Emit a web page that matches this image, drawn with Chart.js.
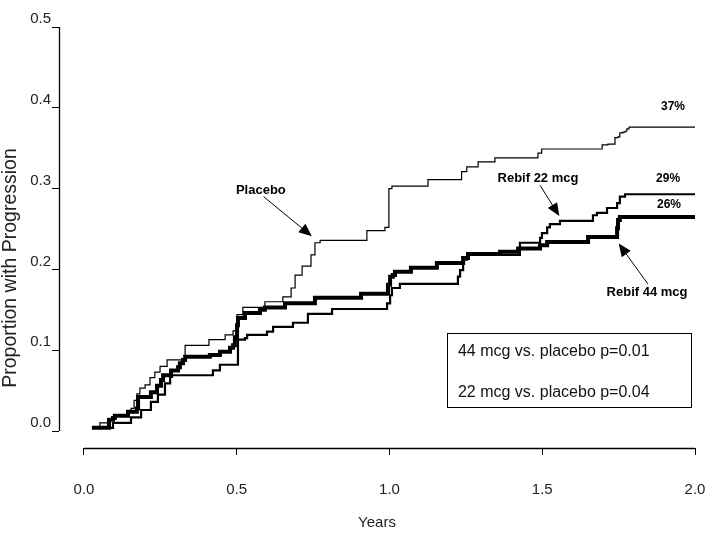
<!DOCTYPE html>
<html>
<head>
<meta charset="utf-8">
<style>
html,body{margin:0;padding:0;background:#fff;}
#wrap{width:713px;height:544px;}
</style>
<script src="https://cdn.jsdelivr.net/npm/chart.js@4"></script>
</head>
<body>
<div id="wrap"><canvas id="c" width="713" height="544"></canvas></div>
<script>
// ---- Data (years, cumulative proportion with progression) ----
const placeboYears  = [0.026,0.052,0.079,0.101,0.141,0.154,0.164,0.173,0.183,0.200,0.216,0.232,0.249,0.272,0.331,0.409,0.462,0.488,0.501,0.520,0.592,0.651,0.678,0.691,0.714,0.743,0.756,0.773,0.926,0.985,0.998,1.008,1.126,1.236,1.253,1.290,1.345,1.486,1.498,1.696,1.715,1.738,1.748,1.754,1.764,1.771,1.777,1.784,2.000];
const placeboValues = [0.004,0.010,0.015,0.020,0.024,0.028,0.038,0.046,0.053,0.057,0.066,0.073,0.080,0.088,0.106,0.113,0.119,0.124,0.144,0.153,0.160,0.166,0.177,0.193,0.204,0.218,0.233,0.236,0.248,0.252,0.300,0.303,0.311,0.321,0.327,0.333,0.338,0.344,0.349,0.354,0.355,0.363,0.364,0.369,0.370,0.371,0.374,0.376,0.376];

const rebif22Years  = [0.026,0.095,0.154,0.187,0.219,0.242,0.265,0.282,0.288,0.422,0.445,0.504,0.527,0.534,0.599,0.619,0.684,0.733,0.812,0.992,1.002,1.008,1.034,1.224,1.231,1.241,1.254,1.427,1.493,1.499,1.516,1.525,1.558,1.666,1.679,1.712,1.745,1.754,1.771,2.000];
const rebif22Values = [0.004,0.010,0.017,0.026,0.036,0.045,0.059,0.067,0.069,0.075,0.082,0.113,0.115,0.119,0.123,0.129,0.134,0.145,0.151,0.158,0.168,0.177,0.182,0.191,0.199,0.212,0.218,0.233,0.239,0.245,0.252,0.256,0.260,0.267,0.270,0.276,0.282,0.290,0.293,0.293];

const rebif44Years  = [0.026,0.082,0.095,0.101,0.144,0.173,0.177,0.219,0.239,0.252,0.259,0.285,0.308,0.314,0.324,0.331,0.412,0.445,0.478,0.488,0.494,0.501,0.504,0.527,0.576,0.592,0.658,0.756,0.907,0.995,1.002,1.011,1.018,1.070,1.155,1.241,1.257,1.362,1.421,1.493,1.516,1.650,1.745,1.748,1.754,2.000];
const rebif44Values = [0.004,0.014,0.016,0.019,0.024,0.028,0.042,0.048,0.056,0.063,0.069,0.075,0.079,0.084,0.088,0.092,0.094,0.098,0.103,0.106,0.116,0.131,0.140,0.146,0.150,0.153,0.158,0.165,0.170,0.181,0.191,0.193,0.197,0.202,0.208,0.214,0.219,0.222,0.226,0.230,0.234,0.240,0.251,0.261,0.265,0.265];

const xTickValues = [0, 0.5, 1.0, 1.5, 2.0];
const yTickValues = [0, 0.1, 0.2, 0.3, 0.4, 0.5];

const seriesNames  = ['Placebo', 'Rebif 22 mcg', 'Rebif 44 mcg'];
const seriesWidths = [1.2, 2.2, 4];
const noteAt    = [[0.579,0.298],[1.486,0.313],[1.843,0.171]];
const arrowFrom = [[0.588,0.290],[1.493,0.304],[1.846,0.182]];
const arrowTo   = [[0.746,0.241],[1.556,0.266],[1.750,0.232]];

const endLabels  = ['37%', '29%', '26%'];
const endLabelAt = [[1.928,0.402],[1.912,0.312],[1.915,0.280]];

const pValueLines = ['44 mcg vs. placebo p=0.01', '22 mcg vs. placebo p=0.04'];
const pValueAt    = [[1.224,0.098],[1.224,0.0475]];
const pBoxCorners = [[1.188,0.121],[1.987,0.030]];

const X_AXIS_AT = -0.021;   // value on y scale where the x axis line sits
const X_MIN = -0.0818, Y_MIN = -0.0965;

const FONT = '"Liberation Sans", Arial, Helvetica, sans-serif';
Chart.defaults.font.family = FONT;

function pts(xs, ys){ return xs.map((x,i)=>({x:x, y:ys[i]})); }

function drawArrow(ctx, x1, y1, x2, y2){
  const a = Math.atan2(y2-y1, x2-x1), L = 13, W = 5.5;
  const bx = x2 - L*Math.cos(a), by = y2 - L*Math.sin(a);
  ctx.lineWidth = 1;
  ctx.beginPath(); ctx.moveTo(x1,y1); ctx.lineTo(bx,by); ctx.stroke();
  ctx.beginPath();
  ctx.moveTo(x2,y2);
  ctx.lineTo(bx + W*Math.sin(a), by - W*Math.cos(a));
  ctx.lineTo(bx - W*Math.sin(a), by + W*Math.cos(a));
  ctx.closePath(); ctx.fill();
}

const axisLines = {
  id:'axisLines',
  afterDraw(chart){
    const {ctx, scales:{x,y}, chartArea} = chart;
    ctx.save();
    ctx.strokeStyle = '#000'; ctx.lineWidth = 1.3;
    const ax = Math.round(chartArea.left) + 0.5;
    ctx.beginPath();
    ctx.moveTo(ax, y.getPixelForValue(yTickValues[0]));
    ctx.lineTo(ax, y.getPixelForValue(yTickValues[yTickValues.length-1]));
    ctx.stroke();
    const ay = Math.round(y.getPixelForValue(X_AXIS_AT)) + 0.5;
    ctx.beginPath();
    ctx.moveTo(x.getPixelForValue(xTickValues[0]), ay);
    ctx.lineTo(x.getPixelForValue(xTickValues[xTickValues.length-1]), ay);
    ctx.stroke();
    ctx.restore();
  }
};

const notes = {
  id:'notes',
  afterDatasetsDraw(chart){
    const {ctx, scales:{x,y}} = chart;
    const px = v => x.getPixelForValue(v), py = v => y.getPixelForValue(v);
    ctx.save();
    ctx.fillStyle = '#000'; ctx.strokeStyle = '#000';
    ctx.textAlign = 'center'; ctx.textBaseline = 'middle';
    ctx.font = 'bold 13px ' + FONT;
    seriesNames.forEach((n,i)=>{
      ctx.fillText(n, px(noteAt[i][0]), py(noteAt[i][1]));
      drawArrow(ctx, px(arrowFrom[i][0]), py(arrowFrom[i][1]), px(arrowTo[i][0]), py(arrowTo[i][1]));
    });
    ctx.font = 'bold 12px ' + FONT;
    endLabels.forEach((t,i)=> ctx.fillText(t, px(endLabelAt[i][0]), py(endLabelAt[i][1])));
    // p-value box
    const bx1 = Math.round(px(pBoxCorners[0][0]))+0.5, by1 = Math.round(py(pBoxCorners[0][1]))+0.5;
    const bx2 = Math.round(px(pBoxCorners[1][0]))+0.5, by2 = Math.round(py(pBoxCorners[1][1]))+0.5;
    ctx.lineWidth = 1;
    ctx.strokeRect(bx1, by1, bx2-bx1, by2-by1);
    ctx.font = '16px ' + FONT; ctx.textAlign = 'left'; ctx.fillStyle = '#111';
    pValueLines.forEach((t,i)=> ctx.fillText(t, px(pValueAt[i][0]), py(pValueAt[i][1])));
    ctx.restore();
  }
};

new Chart(document.getElementById('c').getContext('2d'), {
  type: 'line',
  data: {
    datasets: [
      {label: seriesNames[0], data: pts(placeboYears, placeboValues)},
      {label: seriesNames[1], data: pts(rebif22Years, rebif22Values)},
      {label: seriesNames[2], data: pts(rebif44Years, rebif44Values)}
    ].map((d,i)=>Object.assign(d, {
      borderColor:'#000', backgroundColor:'#000', borderWidth: seriesWidths[i],
      stepped:true, pointRadius:0, fill:false, tension:0
    }))
  },
  options: {
    responsive:false, animation:false, events:[],
    layout:{padding:{left:0, right:18, top:27, bottom:35}},
    plugins:{legend:{display:false}, tooltip:{enabled:false}},
    scales:{
      x:{
        type:'linear', position:{y:X_AXIS_AT}, min:X_MIN, max:2.0,
        afterBuildTicks: s => { s.ticks = xTickValues.map(v=>({value:v})); },
        ticks:{callback:v=>Number(v).toFixed(1), color:'#222', font:{size:15, lineHeight:'60px'}, padding:5, maxRotation:0, autoSkip:false},
        grid:{drawOnChartArea:false, drawTicks:true, tickLength:7, color:'#000', lineWidth:1},
        border:{display:false},
        title:{display:true, text:'Years', color:'#222', font:{size:15}, padding:{top:-11, bottom:0}}
      },
      y:{
        position:'left', min:Y_MIN, max:0.5,
        afterFit: s => { s.width = 59; },
        afterBuildTicks: s => { s.ticks = yTickValues.map(v=>({value:v})); },
        ticks:{callback:v=>Number(v).toFixed(1), color:'#222', font:{size:15}, padding:1, labelOffset:-8},
        grid:{drawOnChartArea:false, drawTicks:true, tickLength:7, color:'#000', lineWidth:1},
        border:{display:false},
        title:{display:true, text:'Proportion with Progression', color:'#222', font:{size:19.5}, padding:{top:-1, bottom:0}}
      }
    }
  },
  plugins:[axisLines, notes]
});
</script>
</body>
</html>
